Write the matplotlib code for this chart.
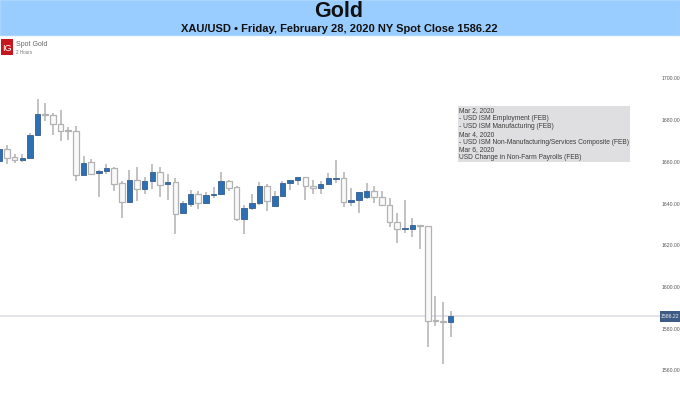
#!/usr/bin/env python3
"""Spot gold 2h candles with event calendar box, saved to out.png"""
import numpy as np
import matplotlib
matplotlib.use("Agg")
import matplotlib.pyplot as plt
from matplotlib.patches import Rectangle

plt.rcParams["font.family"] = ["Liberation Sans", "DejaVu Sans"]

W, H = 680, 394

# candle values, left to right
highs = [1666.5, 1668.1, 1663.6, 1663.8, 1673.7, 1690.0, 1688.1, 1683.3, 1684.9, 1676.6,
         1677.2, 1663.0, 1661.2, 1656.1, 1659.0, 1657.7, 1650.8, 1656.1, 1657.4, 1652.6,
         1658.8, 1657.4, 1654.0, 1652.1, 1641.2, 1646.5, 1646.2, 1645.7, 1648.1, 1655.0,
         1651.3, 1648.4, 1639.5, 1644.6, 1650.2, 1649.2, 1646.0, 1650.8, 1651.5, 1652.8,
         1652.9, 1651.2, 1650.7, 1654.5, 1660.7, 1655.3, 1647.6, 1645.7, 1650.0, 1648.4,
         1646.0, 1642.5, 1635.3, 1641.6, 1632.9, 1629.9, 1629.4, 1595.7, 1593.0, 1588.6]
tops = [1666.0, 1666.0, 1662.2, 1661.9, 1672.9, 1683.1, 1683.1, 1682.6, 1678.0, 1675.1,
        1675.0, 1659.5, 1659.8, 1655.6, 1656.9, 1657.1, 1649.7, 1651.5, 1651.5, 1650.8,
        1655.2, 1655.2, 1650.5, 1650.5, 1640.1, 1644.4, 1644.4, 1644.1, 1644.6, 1650.8,
        1651.0, 1647.8, 1638.0, 1640.3, 1648.6, 1648.6, 1643.8, 1649.9, 1651.2, 1652.6,
        1652.6, 1648.6, 1649.4, 1652.1, 1652.4, 1652.4, 1641.7, 1645.4, 1646.0, 1646.2,
        1643.0, 1639.2, 1631.2, 1628.3, 1629.7, 1629.7, 1629.3, 1584.2, 1583.7, 1586.2]
bottoms = [1660.4, 1662.0, 1661.1, 1661.1, 1662.0, 1672.9, 1682.5, 1678.0, 1675.0, 1674.8,
           1653.9, 1653.9, 1654.0, 1654.7, 1655.5, 1649.6, 1640.9, 1640.9, 1646.9, 1646.9,
           1650.7, 1649.1, 1649.2, 1635.0, 1635.7, 1639.8, 1640.1, 1640.3, 1644.0, 1644.6,
           1647.6, 1632.5, 1632.5, 1638.0, 1640.4, 1641.1, 1638.8, 1643.8, 1649.9, 1651.2,
           1648.3, 1647.3, 1647.5, 1649.4, 1652.0, 1640.9, 1640.9, 1641.7, 1643.2, 1643.0,
           1639.2, 1631.0, 1628.0, 1627.7, 1627.8, 1629.1, 1583.9, 1583.5, 1583.2, 1583.0]
lows = [1659.5, 1659.0, 1659.3, 1659.9, 1661.4, 1672.9, 1679.6, 1672.9, 1670.2, 1670.5,
        1651.0, 1653.6, 1653.7, 1643.3, 1654.2, 1646.2, 1633.2, 1640.8, 1641.4, 1644.8,
        1646.9, 1643.2, 1641.7, 1625.3, 1635.3, 1638.5, 1637.3, 1639.8, 1642.8, 1644.1,
        1646.0, 1631.7, 1625.3, 1636.9, 1639.2, 1636.5, 1638.5, 1643.3, 1646.7, 1648.9,
        1641.7, 1644.4, 1644.8, 1648.9, 1650.0, 1638.5, 1639.0, 1635.6, 1642.0, 1640.1,
        1639.0, 1628.8, 1621.3, 1625.7, 1624.1, 1618.2, 1571.4, 1581.5, 1563.1, 1575.9]
# 1 = blue (up), 0 = white (down)
up = [1, 0, 0, 1, 1, 1, 0, 0, 0, 0,
      0, 1, 0, 1, 1, 0, 0, 1, 0, 1,
      1, 0, 1, 0, 1, 1, 0, 1, 1, 1,
      0, 0, 1, 1, 1, 0, 1, 1, 1, 1,
      0, 0, 1, 1, 1, 0, 1, 1, 1, 0,
      0, 0, 0, 1, 1, 0, 0, 0, 0, 1]

price_ticks = [1560, 1580, 1600, 1620, 1640, 1660, 1680, 1700]
last_close = 1586.22
calendar_lines = ["Mar 2, 2020",
                  "- USD ISM Employment (FEB)",
                  "- USD ISM Manufacturing (FEB)",
                  "Mar 4, 2020",
                  "- USD ISM Non-Manufacturing/Services Composite (FEB)",
                  "Mar 6, 2020",
                  "USD Change in Non-Farm Payrolls (FEB)"]

highs, tops, bottoms, lows = map(np.array, (highs, tops, bottoms, lows))
up = np.array(up, dtype=bool)
idx = np.arange(len(highs))

fig = plt.figure(figsize=(W / 100, H / 100), dpi=100, facecolor="white")

# header banner
fig.patches.append(Rectangle((0, 1 - 35 / H), 1, 35 / H, transform=fig.transFigure,
                             facecolor="#99CCFF", edgecolor="#AAD5FF", lw=1.0))
fig.text(339 / W, 1 - 11.5 / H, "Gold", ha="center", va="center", fontsize=15.5, fontweight="bold", color="#111111")
fig.text(339.5 / W, 1 - 29.5 / H, "XAU/USD • Friday, February 28, 2020 NY Spot Close 1586.22",
         ha="center", va="center", fontsize=8.0, fontweight="bold", color="#111111")

# price panel: 7.65 px per candle, 2.085 px per dollar
ax = fig.add_axes([0, 0, 660 / W, (H - 35) / H])
ax.set_xlim(0.65 / 7.65, 660.65 / 7.65)
ax.set_ylim(1700 - (H - 78.5) / 2.085, 1700 + (78.5 - 35) / 2.085)
for s in ax.spines.values():
    s.set_visible(False)
ax.xaxis.set_visible(False)
ax.yaxis.tick_right()
ax.set_yticks(price_ticks)
ax.set_yticklabels([f"{p:.2f}" for p in price_ticks], fontsize=3.7, color="#555555")
ax.tick_params(axis="y", length=0, pad=1.5)

ax.axhline(last_close, color="#DADAE2", lw=1.1, zorder=1)
ax.vlines(idx, lows, highs, color="#B2B2B2", lw=1.1, zorder=2)
ax.bar(idx[up], (tops - bottoms)[up], bottom=bottoms[up], width=0.72,
       facecolor="#2C6FB3", edgecolor="#44699A", lw=0.7, zorder=3)
ax.bar(idx[~up], (tops - bottoms)[~up], bottom=bottoms[~up], width=0.72,
       facecolor="#F9F9FA", edgecolor="#B2B2B2", lw=0.9, zorder=3)

# last price tag on the axis
fig.patches.append(Rectangle((660 / W, 1 - 321.5 / H), 20 / W, 11 / H, transform=fig.transFigure,
                             facecolor="#3D5B85", edgecolor="none"))
fig.text(670 / W, 1 - 316 / H, f"{last_close:.2f}", ha="center", va="center", fontsize=3.7, color="#EEF1F6")

# event calendar box
fig.patches.append(Rectangle((458 / W, 1 - 162 / H), 172 / W, 56 / H, transform=fig.transFigure,
                             facecolor="#DFDFE1", edgecolor="none", zorder=5))
for n, line in enumerate(calendar_lines):
    fig.text(459 / W, 1 - (111 + n * 7.75) / H, line, ha="left", va="center",
             fontsize=4.75, color="#3C3C3C", zorder=6)

# broker logo and instrument caption
fig.patches.append(Rectangle((1 / W, 1 - 54.5 / H), 12 / W, 15.5 / H, transform=fig.transFigure,
                             facecolor="#C4161C", edgecolor="none"))
fig.text(7 / W, 1 - 48.5 / H, "IG", ha="center", va="center", fontsize=6.6, color="white")
fig.text(16.5 / W, 1 - 44 / H, "Spot Gold", ha="left", va="center", fontsize=5.0, color="#666666")
fig.text(16.5 / W, 1 - 52.5 / H, "2 Hours", ha="left", va="center", fontsize=3.3, color="#777777")

fig.savefig("out.png", dpi=100)
